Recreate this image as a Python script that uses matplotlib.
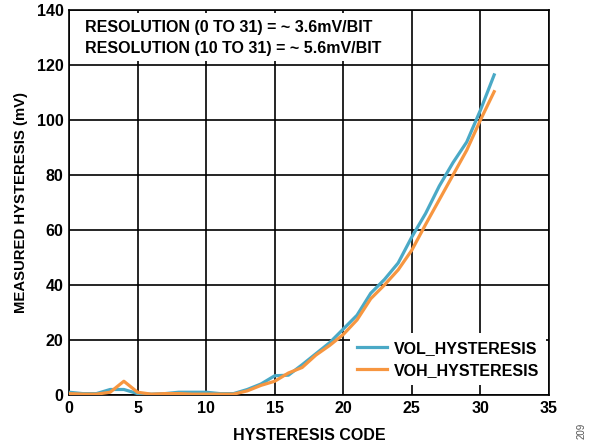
import numpy as np
import matplotlib.pyplot as plt
import matplotlib.patches as patches

plt.rcParams['font.family'] = ['Liberation Sans', 'DejaVu Sans']

codes = list(range(0, 32))
vol_hyst = [1, 0.5, 0.5, 2, 2, 0.5, 0.3, 0.5, 1, 1, 1, 0.5, 0.5, 2, 4, 7,
            7.2, 11, 15, 19, 24, 29, 37, 42, 48, 57.5, 66, 76, 84.5, 92, 103.6, 116.4]
voh_hyst = [0.5, 0.3, 0.3, 1, 5, 1, 0.3, 0.5, 0.5, 0.3, 0.3, 0.3, 0.3, 1.5, 3.5, 5,
            8, 10, 14.5, 18, 22, 27.3, 35, 40, 45.5, 52.7, 62, 71, 80, 89, 100, 110.3]

fig = plt.figure(figsize=(5.98, 4.44), dpi=100)
ax = fig.add_axes([0.1154, 0.1104, 0.8027, 0.8671])

fs = 11.5
ax.set_xlim(0, 35)
ax.set_ylim(0, 140)
ax.set_xticks(range(0, 36, 5))
ax.set_yticks(range(0, 141, 20))
ax.grid(True, color='black', lw=1.2)
ax.set_axisbelow(True)
ax.tick_params(length=0, labelsize=fs, pad=4)
for lab in ax.get_xticklabels() + ax.get_yticklabels():
    lab.set_fontweight('bold')
for sp in ax.spines.values():
    sp.set_linewidth(1.2)

l1, = ax.plot(codes, vol_hyst, color='#4aa9c6', lw=2.3, label='VOL_HYSTERESIS', zorder=3)
l2, = ax.plot(codes, voh_hyst, color='#f79640', lw=2.3, label='VOH_HYSTERESIS', zorder=3)

# white box behind the resolution notes
ax.add_patch(patches.Rectangle((0.1, 121.5), 24.4, 17.5, facecolor='white',
                               edgecolor='none', zorder=2))
ax.text(1.2, 133.5, 'RESOLUTION (0 TO 31) = ~ 3.6mV/BIT', fontsize=fs,
        fontweight='bold', va='center', zorder=4)
ax.text(1.2, 126, 'RESOLUTION (10 TO 31) = ~ 5.6mV/BIT', fontsize=fs,
        fontweight='bold', va='center', zorder=4)

leg = ax.legend(handles=[l1, l2], loc='lower right', bbox_to_anchor=(0.994, 0.026),
                frameon=True, fancybox=False, framealpha=1, edgecolor='none',
                prop={'weight': 'bold', 'size': fs}, handlelength=1.9,
                handletextpad=0.4, labelspacing=0.45, borderpad=0.45,
                borderaxespad=0)
leg.set_zorder(5)

ax.set_xlabel('HYSTERESIS CODE', fontsize=fs, fontweight='bold', labelpad=9)
ax.set_ylabel('MEASURED HYSTERESIS (mV)', fontsize=10.7, fontweight='bold', labelpad=6)

fig.text(0.972, 0.03, '209', rotation=90, fontsize=7, color='#555555',
         ha='center', va='center')

fig.savefig('out.png', dpi=100)
